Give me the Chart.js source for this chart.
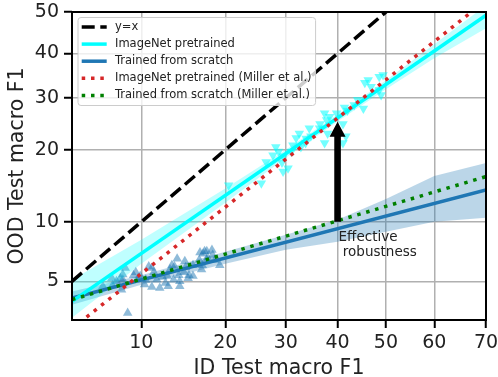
<!DOCTYPE html>
<html>
<head>
<meta charset="utf-8">
<script src="https://cdn.jsdelivr.net/npm/chart.js@4.4.1/dist/chart.umd.min.js"></script>
<style>
  html, body { margin: 0; padding: 0; background: #fff; }
  canvas { display: block; }
</style>
</head>
<body>
<canvas id="chart" width="498" height="377"></canvas>
<script>
// tick labels (percent)
const xTicks = [10, 20, 30, 40, 50, 60, 70];
const yTicks = [5, 10, 20, 30, 40, 50];

// scatter: trained from scratch (ID, OOD macro F1)
const scratchId = [8.8, 8.6, 8.2, 7.9, 8.4, 7.6, 6.9, 8.3, 9.3, 9.9, 10.3, 11.0, 11.2, 11.0, 11.5, 11.8,
  12.4, 12.9, 12.7, 13.7, 13.9, 14.5, 14.0, 13.4, 16.5, 17.1, 18.1, 17.5, 16.4, 16.7, 19.2, 18.5,
  15.6, 14.6, 15.1, 15.6, 12.6, 14.0, 9.5, 10.4, 12.1, 13.3, 14.7, 15.0, 16.9, 17.4, 18.2, 17.4,
  16.8, 10.7, 8.4, 9.7, 7.55, 13.1];
const scratchOod = [3.3, 5.9, 5.2, 5.0, 5.1, 4.75, 4.7, 4.5, 5.4, 5.35, 4.8, 5.9, 5.6, 4.65, 5.1, 4.6,
  4.9, 5.8, 4.7, 6.6, 5.4, 5.6, 4.7, 6.0, 7.1, 7.2, 7.3, 6.7, 6.5, 5.8, 6.1, 6.5,
  6.1, 6.4, 5.4, 5.35, 5.35, 5.0, 5.6, 5.1, 5.3, 5.1, 5.95, 5.2, 7.0, 7.2, 6.9, 6.5,
  6.1, 6.0, 5.45, 5.2, 5.2, 6.1];

// scatter: ImageNet pretrained
const pretrainedId = [20.5, 25.7, 26.5, 27.7, 28.2, 28.7, 29.5, 29.3, 30.4, 29.5, 31.3, 31.0, 31.9, 32.5,
  32.8, 33.7, 33.8, 34.4, 34.7, 36.4, 36.5, 37.4, 37.8, 37.4, 38.4, 38.0, 39.8, 41.1, 41.7, 41.1,
  41.4, 42.0, 43.4, 44.1, 45.3, 45.6, 46.3, 46.9, 48.6, 49.0, 48.6, 49.4];
const pretrainedOod = [14.5, 14.8, 18.0, 19.1, 20.5, 19.7, 18.9, 17.9, 17.0, 16.5, 20.8, 19.7, 22.1, 22.9,
  20.5, 21.2, 22.0, 23.9, 22.4, 23.9, 24.7, 21.2, 25.5, 26.8, 26.1, 22.9, 26.8, 24.7, 22.4, 21.2,
  28.0, 27.4, 28.5, 29.6, 27.8, 33.3, 33.9, 32.4, 31.7, 30.6, 34.6, 35.0];

// fitted lines, evaluated at the x-axis ends
const lineX = [5, 70];
const diagonal = [5, 70];
const fitPretrained = [3.86, 49.2];
const fitScratch = [4.04, 13.87];
const millerPretrained = [2.66, 52.8];
const millerScratch = [3.95, 15.74];

// confidence bands
const bandX = [5, 10, 20, 30, 40, 50, 60, 70];
const bandPretrainedHigh = [5.10, 8.21, 14.07, 20.02, 26.56, 33.86, 42.2, 51.63];
const bandPretrainedLow = [3.10, 6.21, 12.19, 18.68, 25.17, 31.88, 38.9, 46.04];
const bandScratchHigh = [4.40, 5.40, 7.15, 8.68, 10.22, 12.68, 15.84, 17.83];
const bandScratchLow = [3.69, 4.79, 6.21, 7.32, 8.03, 8.97, 10.0, 10.44];

// annotation
const arrowX = 40;
const arrowFrom = 10;
const arrowTo = 25.13;
const noteLines = ['Effective', ' robustness'];

// inverse normal cdf (Acklam)
function probit(p) {
  const a = [-39.69683028665376, 220.9460984245205, -275.9285104469687, 138.3577518672690, -30.66479806614716, 2.506628277459239];
  const b = [-54.47609879822406, 161.5858368580409, -155.6989798598866, 66.80131188771972, -13.28068155288572];
  const c = [-0.007784894002430293, -0.3223964580411365, -2.400758277161838, -2.549732539343734, 4.374664141464968, 2.938163982698783];
  const d = [0.007784695709041462, 0.3224671290700398, 2.445134137142996, 3.754408661907416];
  const pl = 0.02425;
  if (p < pl) {
    const q = Math.sqrt(-2 * Math.log(p));
    return (((((c[0]*q+c[1])*q+c[2])*q+c[3])*q+c[4])*q+c[5]) / ((((d[0]*q+d[1])*q+d[2])*q+d[3])*q+1);
  }
  if (p <= 1 - pl) {
    const q = p - 0.5, r = q * q;
    return (((((a[0]*r+a[1])*r+a[2])*r+a[3])*r+a[4])*r+a[5])*q / (((((b[0]*r+b[1])*r+b[2])*r+b[3])*r+b[4])*r+1);
  }
  const q = Math.sqrt(-2 * Math.log(1 - p));
  return -(((((c[0]*q+c[1])*q+c[2])*q+c[3])*q+c[4])*q+c[5]) / ((((d[0]*q+d[1])*q+d[2])*q+d[3])*q+1);
}

const pt = (x, y) => ({ x: probit(x / 100), y: probit(y / 100) });
const pts = (xs, ys) => xs.map((x, i) => pt(x, ys[i]));

const FONT = 'DejaVu Sans';
const TEXT = '#222';

const lineDs = (label, ys, color, dash, width, order, xs) => ({
  label, data: pts(xs || lineX, ys), borderColor: color, borderDash: dash, borderWidth: width,
  pointRadius: 0, fill: false, order, inLegend: true
});

const datasets = [
  lineDs('y=x', diagonal, '#000', [13, 5.6], 3.5, 1),
  lineDs('ImageNet pretrained', fitPretrained, '#00ffff', [], 3.5, 4),
  lineDs('Trained from scratch', fitScratch, '#1f77b4', [], 3.5, 5),
  lineDs('ImageNet pretrained (Miller et al.)', millerPretrained, '#d62728', [3.5, 5.8], 3.5, 2),
  lineDs('Trained from scratch (Miller et al.)', millerScratch, '#008000', [3.5, 5.8], 3.5, 3),
  // bands: upper fills down to the next dataset
  { data: pts(bandX, bandPretrainedHigh), fill: '+1', backgroundColor: 'rgba(0,255,255,0.25)', borderWidth: 0, pointRadius: 0, order: 6 },
  { data: pts(bandX, bandPretrainedLow), fill: false, borderWidth: 0, pointRadius: 0, order: 6 },
  { data: pts(bandX, bandScratchHigh), fill: '+1', backgroundColor: 'rgba(31,119,180,0.3)', borderWidth: 0, pointRadius: 0, order: 7 },
  { data: pts(bandX, bandScratchLow), fill: false, borderWidth: 0, pointRadius: 0, order: 7 },
  { data: pts(pretrainedId, pretrainedOod), showLine: false, pointStyle: 'triangle', pointRotation: 180,
    pointRadius: 5.5, pointBackgroundColor: 'rgba(0,255,255,0.55)', pointBorderWidth: 0, order: 8 },
  { data: pts(scratchId, scratchOod), showLine: false, pointStyle: 'triangle',
    pointRadius: 5.5, pointBackgroundColor: 'rgba(31,119,180,0.5)', pointBorderWidth: 0, order: 9 }
];

// frame, arrow, note and legend drawn on top
const overlay = {
  id: 'overlay',
  afterDraw(chart) {
    const { ctx, chartArea: ca, scales: { x, y } } = chart;
    ctx.save();
    ctx.strokeStyle = '#000';
    ctx.lineWidth = 2;
    ctx.strokeRect(ca.left, ca.top, ca.right - ca.left, ca.bottom - ca.top);

    // arrow
    const ax = x.getPixelForValue(probit(arrowX / 100));
    const y0 = y.getPixelForValue(probit(arrowFrom / 100));
    const y1 = y.getPixelForValue(probit(arrowTo / 100));
    const sw = 3.3, hw = 8, hl = 15;
    ctx.fillStyle = '#000';
    ctx.beginPath();
    ctx.moveTo(ax - sw, y0);
    ctx.lineTo(ax - sw, y1 + hl);
    ctx.lineTo(ax - hw, y1 + hl);
    ctx.lineTo(ax, y1);
    ctx.lineTo(ax + hw, y1 + hl);
    ctx.lineTo(ax + sw, y1 + hl);
    ctx.lineTo(ax + sw, y0);
    ctx.closePath();
    ctx.fill();

    ctx.font = `13.5px '${FONT}'`;
    ctx.fillStyle = TEXT;
    ctx.textBaseline = 'middle';
    ctx.textAlign = 'left';
    noteLines.forEach((t, i) => ctx.fillText(t, ax + 1, y0 + 15.7 + i * 14.7));

    // legend
    const items = chart.data.datasets.filter(d => d.inLegend);
    ctx.font = `11.5px '${FONT}'`;
    const tw = Math.max(...items.map(d => ctx.measureText(d.label).width));
    const lx = ca.left + 6, ly = ca.top + 5.5, rowH = 17.1;
    const bw = 37 + tw + 4, bh = items.length * rowH + 2.5;
    ctx.beginPath();
    ctx.roundRect(lx, ly, bw, bh, 3);
    ctx.fillStyle = 'rgba(255,255,255,0.8)';
    ctx.fill();
    ctx.lineWidth = 1;
    ctx.strokeStyle = '#cccccc';
    ctx.stroke();
    items.forEach((d, i) => {
      const cy = ly + 9.5 + i * rowH;
      ctx.beginPath();
      ctx.setLineDash(d.borderDash);
      ctx.strokeStyle = d.borderColor;
      ctx.lineWidth = d.borderWidth;
      ctx.moveTo(lx + 3.7, cy);
      ctx.lineTo(lx + 28.7, cy);
      ctx.stroke();
      ctx.setLineDash([]);
      ctx.fillStyle = TEXT;
      ctx.fillText(d.label, lx + 37, cy);
    });
    ctx.restore();
  }
};

const axis = (ticks, min, max, title, titlePad, tickPad, fit) => ({
  type: 'linear',
  min: probit(min / 100),
  max: probit(max / 100),
  afterBuildTicks: s => { s.ticks = ticks.map(v => ({ value: probit(v / 100) })); },
  afterFit: s => {
    fit(s);
    s.paddingLeft = s.paddingRight = s.paddingTop = s.paddingBottom = 0;
  },
  ticks: {
    callback: (v, i) => ticks[i],
    autoSkip: false, maxRotation: 0, padding: tickPad,
    font: { family: FONT, size: 19 }, color: TEXT
  },
  grid: { color: '#b0b0b0', lineWidth: 1.5, tickColor: '#000', tickWidth: 2, tickLength: 8 },
  border: { display: false },
  title: { display: true, text: title, color: TEXT, padding: titlePad,
    font: { family: FONT, size: 20.5, lineHeight: 1 } }
});

new Chart(document.getElementById('chart'), {
  type: 'line',
  data: { datasets },
  options: {
    responsive: false,
    animation: false,
    layout: { padding: { top: 12, right: 12, left: 0, bottom: 0 } },
    plugins: { legend: { display: false }, tooltip: { enabled: false } },
    scales: {
      x: axis(xTicks, 5, 70, 'ID Test macro F1', { top: 0, bottom: -2 }, 3.5, s => { s.height = 57; }),
      y: axis(yTicks, 3, 50, 'OOD Test macro F1', { top: 7, bottom: 0 }, 5, s => { s.width = 72; })
    }
  },
  plugins: [overlay]
});
</script>
</body>
</html>
